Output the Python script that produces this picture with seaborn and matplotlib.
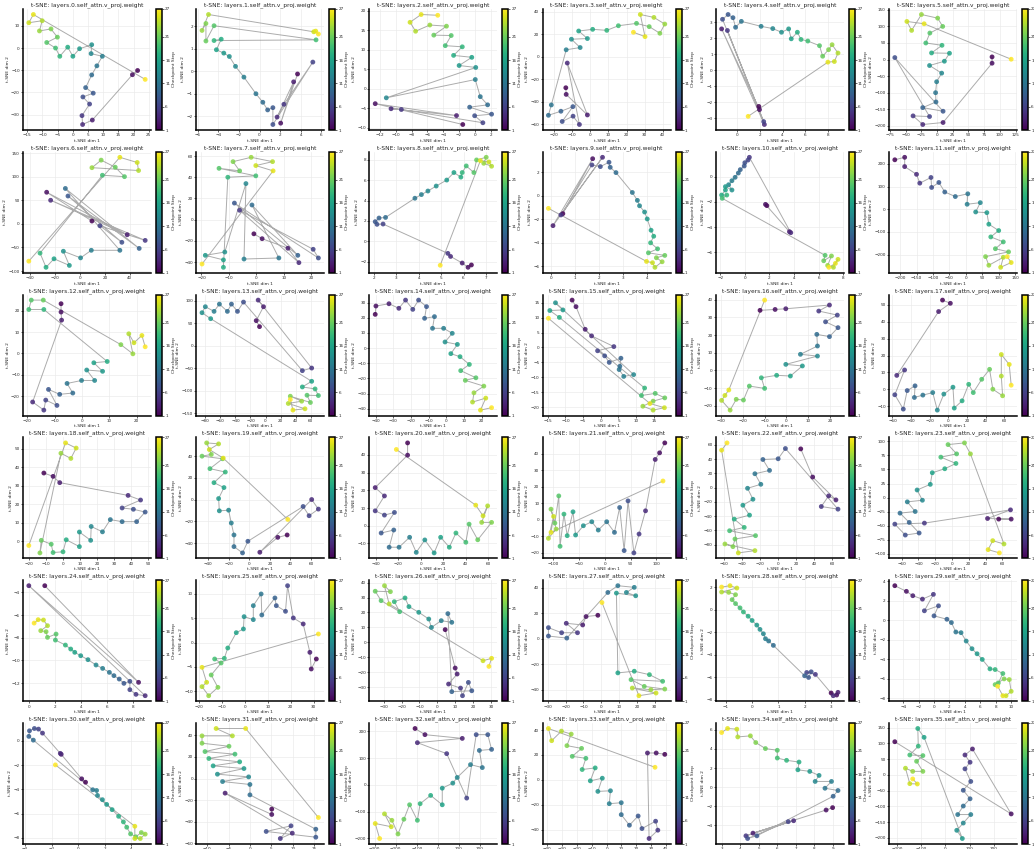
import numpy as np
import pandas as pd
import matplotlib
matplotlib.use("Agg")
import matplotlib.pyplot as plt
import seaborn as sns
from matplotlib.colors import Normalize
from matplotlib.cm import ScalarMappable

# ------------------------------------------------------------
# Données : trajectoires t-SNE des 27 checkpoints, une par couche
# ------------------------------------------------------------
STEPS = list(range(1, 28))
CBAR_TICKS = [1, 6, 11, 16, 21, 27]
LAYER_NAMES = ["layers.%d.self_attn.v_proj.weight" % i for i in range(36)]

L00_X = [21.3, 19.6, 6.4, 3.2, 3.0, 5.5, 3.3, 6.7, 4.2, 6.2, 7.9, 9.7, 6.0, 6.2, 2.2, 0.0, -1.7, -4.3, -5.7, -8.6, -5.1, -7.2, -11.0, -10.1, -14.5, -13.0, 23.8]
L00_Y = [-10.1, -12.0, -32.4, -34.4, -30.4, -25.2, -22.0, -20.3, -17.8, -12.1, -8.0, -3.7, -2.5, 1.5, -0.3, -3.7, 0.4, -3.7, 0.0, 2.5, 4.9, 8.6, 7.7, 12.3, 11.4, 15.1, -14.1]
L01_X = [3.7, 2.06, 3.32, 1.71, 2.37, 5.19, 1.3, 1.3, 0.79, 0.32, -0.35, -1.52, -2.34, -2.94, -3.48, -4.2, -3.73, -4.43, 5.5, -4.43, -5.22, -5.22, -5.6, -4.97, 5.28, 5.47, 5.73]
L01_Y = [-0.12, -2.31, -0.47, -2.04, -1.47, 0.41, -2.37, -1.62, -1.72, -1.38, -1.0, -0.26, 0.22, 0.66, 0.81, 0.96, 1.43, 1.37, 1.4, 2.03, 1.35, 2.13, 1.82, 2.53, 1.76, 1.79, 1.66]
L02_X = [-1.54, -12.6, -2.33, -10.6, -9.3, 1.0, -0.04, 2.1, -0.67, 1.6, 0.67, 0.04, -11.2, 0.1, -2.0, -0.4, -2.7, -1.6, -3.75, -3.0, -5.2, -3.6, -5.7, -7.5, -8.2, -6.8, -4.7]
L02_Y = [-9.15, -3.8, -6.86, -5.1, -5.3, -8.7, -6.9, -6.5, -4.7, -4.1, -2.0, 2.4, -2.3, 5.5, 6.0, 8.1, 8.6, 10.8, 11.1, 13.7, 13.8, 16.1, 16.4, 14.8, 17.1, 19.1, 18.9]
L03_X = [-13.5, -13.3, -1.6, -12.7, -6.0, -9.5, -15.5, -9.6, -16.2, -23.1, -21.5, -13.3, -5.6, -10.4, -1.6, -6.4, 1.3, 9.1, 15.5, 25.5, 32.5, 38.4, 41.1, 35.1, 27.6, 30.2, 23.8]
L03_Y = [-27.6, -33.5, -51.8, -5.6, -60.3, -52.9, -57.6, -44.4, -48.5, -52.1, -42.9, 6.2, 8.2, 15.6, 16.2, 22.9, 24.4, 23.5, 27.6, 29.7, 26.8, 20.9, 29.1, 35.0, 37.6, 17.9, 21.8]
L04_X = [1.91, 1.97, -1.37, 2.4, -0.86, 2.34, -1.29, -0.8, -0.37, -0.14, 0.37, 2.11, 3.14, 3.91, 4.54, 4.77, 5.31, 5.63, 6.23, 7.26, 7.54, 8.06, 8.37, 8.89, 8.57, 8.0, 0.97]
L04_Y = [-2.25, -2.45, 2.6, -3.38, 2.5, -3.2, 3.2, 3.5, 3.3, 2.7, 3.07, 2.76, 2.62, 2.39, 2.6, 1.98, 2.39, 1.94, 1.84, 1.55, 0.89, 1.3, 1.61, 1.09, 0.56, 0.52, -2.87]
L05_X = [87.6, 87.6, 9.7, -22.6, -38.0, -11.8, -67.0, 9.7, -22.6, -1.6, -2.2, -0.5, 7.5, -11.8, 11.8, 19.9, -8.6, 8.0, -17.7, -11.3, 9.1, 1.1, -24.7, -40.3, -47.8, -20.4, 118.0]
L05_Y = [8, -11, -190, -196, -170, -172, 6, -156, -145, -128, -100, -67, -41, -18, -5, 19, 20, 43, 50, 80, 100, 125, 136, 88, 115, 108, 1]
L06_X = [9.6, -26.7, 37.9, -23.5, 52.3, 16.0, 33.6, -9.6, 47.5, -11.7, 32.0, 9.1, 0.5, -13.3, -8.5, -20.8, -27.2, -32.0, 18.0, 35.7, 28.3, 17.0, 9.6, 47.0, 45.9, 32.0, -41.0]
L06_Y = [6, 67, -23, 50, -35, -4, -39, 59, -52, 75, -56, -56, -72, -58, -88, -74, -92, -62, 103, 100, 120, 135, 119, 113, 130, 141, -79]
L07_X = [-0.9, 2.1, 11.5, 15.5, -6.1, 20.7, 22.6, -8.0, 15.1, -1.6, 8.2, -4.5, -3.8, -11.5, -18.6, -12.0, -12.0, -10.4, -0.2, -13.6, -6.1, -8.5, -1.9, 5.9, -0.2, 6.1, -19.8]
L07_Y = [-13.4, -18.0, -27.0, -40.6, 8.8, -28.0, -36.2, 15.6, -33.7, 13.8, -36.2, -37.2, 34.0, -30.6, -33.7, -38.0, -45.0, 40.0, 41.3, 48.4, 46.0, 54.7, 58.8, 54.7, 51.0, 46.0, -41.9]
L08_X = [6.35, 6.2, 5.94, 5.42, 5.3, 2.41, 2.14, 2.06, 2.23, 2.52, 3.83, 4.12, 4.41, 4.78, 5.25, 5.57, 5.88, 5.94, 6.12, 6.46, 6.58, 7.01, 6.9, 7.25, 7.13, 6.75, 4.96]
L08_Y = [-2.34, -2.57, -2.15, -1.5, -1.2, 1.69, 1.66, 1.92, 2.28, 2.34, 4.23, 4.59, 4.94, 5.43, 6.02, 6.76, 6.31, 6.76, 7.41, 6.76, 8.0, 8.26, 7.67, 7.38, 7.8, 7.93, -2.37]
L09_X = [0.49, 1.73, 0.08, 2.14, 0.41, 1.7, 2.05, 2.41, 2.46, 2.7, 3.38, 3.59, 3.68, 3.89, 4.0, 4.16, 4.27, 4.14, 4.43, 4.05, 4.73, 4.38, 4.62, 4.32, 4.22, 3.97, -0.11]
L09_Y = [-1.52, 3.15, -2.54, 3.27, -1.63, 2.62, 2.48, 2.85, 2.42, 1.97, 0.28, -0.39, -0.85, -1.38, -1.97, -2.93, -3.44, -4.0, -4.51, -4.85, -5.07, -5.27, -5.61, -6.08, -5.69, -5.58, -1.07]
L10_X = [1.79, 1.68, 3.63, 3.74, 0.37, 0.26, 0.0, -0.05, -0.37, -0.53, -0.79, -1.05, -1.32, -1.05, -1.58, -1.58, -1.89, -1.47, -1.84, 6.53, 6.42, 7.05, 6.74, 7.21, 7.58, 7.37, 6.84]
L10_Y = [-2.3, -2.2, -4.37, -4.45, 1.54, 1.32, 1.11, 0.85, 0.56, 0.29, -0.05, -0.32, -0.64, -1.06, -0.79, -1.06, -1.46, -1.46, -1.72, -6.25, -6.68, -6.3, -7.05, -7.2, -6.57, -6.89, -7.2]
L11_X = [-216, -186, -186, -150, -140, -106, -104, -82, -64, -32, 6, 4, 44, 30, 64, 70, 100, 76, 114, 90, 130, 60, 70, 114, 106, 138, 126]
L11_Y = [218, 229, 188, 154, 115, 140, 96, 118, 76, 56, 68, 22, 29, -12, -15, -66, -94, -122, -144, -174, -188, -209, -247, -212, -256, -235, -209]
L12_X = [-7.7, -7.7, -7.5, -18.1, -14.0, -13.3, -9.2, -12.3, -8.2, -3.4, -5.5, -0.2, 4.6, 1.7, 7.5, 4.3, 9.2, -14.0, -19.5, -18.6, -14.2, 14.2, 18.6, 17.1, 19.0, 21.9, 23.1]
L12_Y = [23.3, 19.4, 15.6, -22.8, -26.6, -21.9, -24.4, -16.9, -19.2, -18.6, -14.1, -12.7, -12.7, -7.8, -8.4, -4.4, -3.8, 20.6, 20.6, 25.0, 25.0, 4.1, -0.2, 9.2, 5.0, 8.4, 3.1]
L13_X = [-8.0, -12.4, -2.7, -9.8, 61.3, 48.9, -29.3, -37.3, -45.3, -50.7, -61.3, -68.4, -80.0, -84.4, -72.9, 61.3, 48.9, 65.8, 70.2, 55.1, 59.6, 32.9, 48.0, 30.2, 52.4, 36.4, 32.9]
L13_Y = [42.6, 55.9, 86.8, 101.5, -49.3, -55.1, 97.1, 76.5, 92.6, 76.5, 92.6, 76.5, 86.8, 73.5, 60.3, -78.7, -91.2, -95.6, -110.3, -109.6, -125.7, -111.8, -122.8, -127.9, -139.7, -142.6, -119.1]
L14_X = [-40.3, -39.9, -32.5, -26.9, -23.1, -19.0, -15.7, -11.2, -12.3, -6.7, -7.8, -1.5, 3.4, -0.7, 6.3, 2.6, 7.8, 13.1, 8.2, 16.8, 10.8, 21.3, 15.7, 14.9, 22.4, 19.4, 25.7]
L14_Y = [22.2, 27.7, 29.2, 26.2, 31.6, 25.5, 31.6, 27.3, 19.6, 20.7, 13.0, 13.0, 9.7, 4.0, 2.4, -3.7, -5.7, -10.8, -14.9, -19.6, -21.3, -25.1, -29.5, -35.6, -33.0, -40.9, -39.3]
L15_X = [-8.1, -7.0, -4.4, -2.6, 3.7, -0.9, 1.1, 2.4, 5.7, 5.4, 5.2, 6.5, 9.3, -12.8, -10.7, -14.4, -11.7, 12.4, 11.5, 15.4, 18.1, 14.8, 11.9, 14.8, 18.0, 13.9, -14.8]
L15_Y = [15.9, 13.7, 6.1, 3.9, 0.3, -1.1, -2.8, -5.0, -3.6, -6.3, -7.4, -9.7, -9.1, 15.0, 12.6, 12.4, 10.1, -13.6, -16.1, -15.4, -16.9, -18.0, -19.7, -21.0, -20.2, -18.8, 9.8]
L16_X = [-12.1, -5.2, -0.3, 19.7, 14.8, 23.3, 17.9, 23.6, 19.7, 13.9, 14.2, 6.4, 14.2, -0.3, 7.3, 1.8, -4.5, -11.5, -10.0, -17.0, -19.7, -23.0, -25.8, -29.7, -28.2, -26.4, -10.0]
L16_Y = [34.0, 34.5, 34.9, 37.0, 33.6, 31.3, 27.5, 24.2, 19.1, 20.4, 13.8, 9.1, 8.1, 3.4, 2.5, -3.2, -2.8, -4.2, -10.2, -8.9, -16.8, -16.4, -22.5, -17.0, -14.2, -11.1, 39.8]
L17_X = [-6.3, 2.1, -10.5, -55.4, -47.0, -57.5, -48.4, -44.2, -35.8, -36.5, -27.4, -16.8, -11.9, -4.9, 4.9, 6.3, 14.7, 21.8, 26.7, 35.8, 44.2, 47.7, 58.2, 56.8, 56.8, 65.3, 67.4]
L17_Y = [52.9, 51.0, 46.1, 8.2, 11.4, -3.3, -11.8, -0.8, 2.0, -4.9, -3.5, -2.0, -12.4, -2.9, 1.2, -11.2, -6.9, 2.9, -2.0, 5.9, 11.8, 0.0, -3.9, 7.8, 20.6, 14.7, 2.4]
L18_X = [-11.2, -5.8, -1.9, 38.1, 45.4, 34.6, 41.2, 48.1, 43.1, 34.6, 27.7, 23.1, 16.5, 16.2, 9.6, 9.6, 1.9, 0.0, -5.8, -6.9, -12.7, -13.5, -1.2, 4.6, 7.7, 1.5, -20.0]
L18_Y = [36.8, 35.0, 31.6, 24.7, 22.2, 17.9, 17.2, 15.7, 10.5, 10.5, 11.6, 5.0, 7.9, 0.4, 4.9, -3.0, 0.7, -5.8, -6.2, -1.7, 0.4, -6.4, 47.5, 44.7, 50.3, 53.1, -2.4]
L19_X = [36.8, 27.7, 10.3, 60.6, 67.1, 58.1, 52.3, -1.3, -6.5, -14.8, -14.8, -17.4, -20.0, -29.0, -29.7, -24.5, -34.2, -23.2, -38.1, -25.8, -45.8, -36.8, -41.3, -29.7, -38.7, -25.2, 37.4]
L19_Y = [-32.6, -34.8, -48.5, 0.0, -8.8, -14.9, -6.4, -38.4, -49.1, -43.3, -32.6, -21.6, -9.8, -10.4, 0.9, 11.0, 15.5, 25.3, 28.4, 37.5, 39.9, 41.5, 52.1, 51.2, 46.0, 38.1, -18.3]
L20_X = [-11.8, -11.8, -40.6, -32.4, -40.6, -32.4, -23.5, -35.3, -24.1, -28.2, -19.4, -10.0, -4.1, 3.5, 11.8, 17.6, 25.3, 31.2, 40.0, 42.9, 50.6, 62.9, 54.1, 59.4, 55.3, 48.8, -21.8]
L20_Y = [46.7, 39.8, 21.5, 16.8, 8.4, 6.0, 7.5, -4.1, -2.4, -12.1, -12.1, -6.5, -15.0, -8.0, -15.3, -6.5, -12.1, -4.1, -9.3, 0.9, -7.9, 1.9, 1.9, 11.2, 5.6, 11.6, 43.0]
L21_X = [116, 106, 97.5, 78.8, 66.3, 56.3, 45, 37.5, 28.8, 18.8, 3.8, -12.5, -25, -41.3, -56.3, -61.3, -72.5, -78.8, -86.3, -88.8, -96.3, -103.8, -93.8, -108.8, -98.8, -103.8, 112.5]
L21_Y = [46.4, 40.4, 36.4, 5.4, -8.6, -20.0, 11.4, -18.6, 7.4, -7.6, -1.2, -6.2, -1.2, -3.6, -9.2, 4.8, -9.6, 3.4, -16.0, 14.4, -2.0, 6.4, -5.6, -11.2, 2.0, -7.6, 23.4]
L22_X = [25.2, 38.5, 64.4, 56.3, 48.1, 66.7, 8.1, 0.0, -17.0, -9.6, -25.9, -19.3, -34.1, -28.1, -39.3, -31.9, -48.9, -37.8, -54.1, -25.2, -48.1, -50.4, -59.3, -25.9, -44.4, -63.0, -57.0]
L22_Y = [54.4, 14.9, -17.2, -11.6, -26.5, -30.2, 54.9, 40.5, 39.5, 24.2, 19.5, 4.7, -0.9, -16.3, -24.7, -38.6, -44.2, -55.8, -60.5, -67.4, -72.1, -82.8, -79.1, -88.4, -91.6, 52.6, 62.8]
L23_X = [55.7, 70.6, 42.4, 69.8, -32.9, -68.2, -55.7, -39.2, -51.0, -62.0, -43.9, -53.3, -35.3, -41.6, -25.9, -23.5, -8.6, 4.7, -13.3, 5.5, -4.7, 14.9, 22.0, 62.0, 48.6, 43.1, 56.5]
L23_Y = [-38.2, -38.2, -37.1, -21.8, -45.3, -47.1, -66.5, -62.9, -44.1, -27.6, -24.7, -7.6, -4.7, 13.5, 23.5, 44.1, 51.2, 60.6, 71.8, 77.6, 94.1, 97.1, 77.6, -82.4, -76.5, -92.4, -98.2]
L24_X = [1.23, 8.46, 0.0, 8.97, 8.26, 7.79, 7.79, 7.33, 6.97, 6.56, 6.21, 5.69, 5.18, 4.56, 4.0, 3.54, 3.23, 2.82, 2.05, 2.1, 1.44, 1.33, 0.92, 1.44, 1.13, 0.72, 0.41]
L24_Y = [-3.41, -11.94, -3.41, -13.12, -13.0, -12.59, -11.85, -12.03, -11.65, -11.35, -11.06, -10.71, -10.41, -9.94, -9.59, -9.29, -9.0, -8.65, -8.21, -7.68, -7.97, -7.47, -7.38, -6.94, -6.44, -6.41, -6.71]
L25_X = [31.1, 28.9, 28.3, 25.4, 21.1, 18.6, 17.7, 13.7, 13.1, 7.4, 7.1, 3.7, 3.7, -0.3, -0.6, -3.7, -7.4, -8.9, -13.1, -10.3, -14.6, -11.7, -15.7, -18.6, -16.6, -18.6, 32.0]
L25_Y = [-3.36, -5.41, -1.99, 3.84, 5.07, 11.7, 6.44, 7.6, 9.18, 5.68, 10.0, 7.6, 4.73, 5.34, 2.81, 2.05, -1.1, -3.22, -3.36, -4.18, -6.64, -9.18, -10.9, -9.04, -8.15, -5.07, 1.78]
L26_X = [4.4, 10.0, 11.1, 6.3, 13.0, 14.1, 17.4, 19.3, 8.1, 5.9, 8.1, 2.2, -3.3, -4.8, -10.4, -15.9, -18.1, -24.1, -21.1, -31.5, -34.8, -26.3, -29.6, -27.0, 25.6, 30.4, 28.9]
L26_Y = [8.5, -17.2, -21.2, -27.9, -30.6, -35.7, -26.8, -32.4, -33.0, 19.2, 13.4, 14.5, 10.0, 15.6, 20.1, 23.9, 29.7, 27.2, 20.5, 27.9, 34.2, 33.9, 37.9, 25.7, -12.3, -10.7, -16.1]
L27_X = [-1.9, -8.5, -10.4, -19.6, -13.3, -22.2, -29.6, -29.6, -19.3, 3.7, 9.3, 18.5, 14.1, 19.3, 8.5, 9.3, 18.5, 27.0, 34.4, 16.7, 24.1, 35.6, 27.8, 17.4, 30.7, 21.1, 0.4]
L27_Y = [18.4, 17.4, 10.8, 12.1, 4.7, 4.7, 8.7, 2.1, 0.5, 36.3, 41.6, 40.3, 36.3, 33.7, 35.8, -26.8, -25.5, -28.2, -33.4, -32.1, -37.4, -39.5, -40.0, -38.7, -42.6, -44.7, 28.4]
L28_X = [3.01, 3.22, 3.27, 3.09, 2.41, 2.08, 2.25, 2.15, 2.0, 0.81, 0.63, 0.51, 0.43, 0.3, 0.18, 0.0, -0.15, -0.33, -0.46, -0.63, -0.76, -0.63, -0.89, -1.16, -0.58, -0.84, -1.16]
L28_Y = [-7.41, -7.59, -7.35, -7.65, -5.76, -5.59, -5.53, -6.03, -5.88, -3.18, -2.79, -2.59, -2.15, -1.76, -1.38, -0.97, -0.59, -0.21, 0.15, 0.53, 0.88, 1.32, 1.53, 1.56, 1.91, 2.12, 2.0]
L29_X = [-5.08, -3.58, -2.75, -1.5, -0.08, -1.25, 0.58, 0.0, 1.67, 2.25, 2.83, 3.5, 4.17, 4.92, 5.58, 6.25, 7.25, 7.92, 8.92, 8.33, 7.92, 9.08, 9.75, 10.0, 9.33, 8.92, 8.25]
L29_Y = [3.55, 2.97, 2.52, 2.17, 2.66, 0.97, 1.48, 0.45, 0.1, -0.24, -1.21, -1.28, -2.14, -2.93, -3.45, -4.03, -5.0, -5.07, -5.48, -6.45, -6.62, -6.03, -6.1, -7.31, -7.76, -7.76, -6.79]
L30_X = [0.56, 0.27, -1.27, -1.34, -2.68, -2.98, -3.29, -3.66, -3.71, -3.37, 1.1, 1.39, 1.46, 1.83, 2.15, 2.56, 3.05, 3.41, 3.66, 3.95, 4.34, 4.76, 5.05, 4.68, 4.27, 4.27, -1.71]
L30_Y = [-3.42, -3.14, -1.12, -1.04, 0.63, 0.96, 1.01, 0.82, 0.36, 0.05, -4.04, -4.1, -4.51, -4.86, -5.25, -5.68, -6.23, -6.69, -7.13, -7.68, -7.92, -7.57, -7.7, -8.06, -8.06, -7.05, -1.99]
L31_X = [5.1, 5.1, -5.8, 9.9, 7.1, 9.6, 3.8, 15.4, 15.4, 0.0, 0.0, -6.4, -0.3, -7.6, -1.4, -8.6, -2.4, -9.6, -3.5, -10.5, -4.9, -11.2, -11.2, -4.1, -7.9, -1.0, 16.0]
L31_Y = [-28.3, -33.2, -13.5, -50.5, -55.4, -43.7, -48.9, -54.2, -46.8, -15.1, -5.5, -2.8, 1.5, 4.0, 9.2, 11.7, 15.4, 18.5, 22.5, 24.9, 29.8, 32.6, 39.4, 39.4, 46.2, 46.2, -36.0]
L32_X = [-108, -61, 116, -97, 42, 137, 182, 237, 255, 197, 211, 155, 92, 71, 21, 21, -34, -84, -97, -134, -161, -189, -218, -253, -221, -297, -276]
L32_Y = [211, 188, 174, 158, 117, -49, 188, 188, 133, 129, 65, 76, 28, 7, -12, -74, -39, -70, -132, -74, -128, -183, -132, -108, -156, -144, -200]
L33_X = [39.3, 33.5, 27.6, 28.7, 34.6, 33.1, 23.9, 21.3, 15.4, 9.9, 9.9, 1.8, 2.6, -5.9, -2.9, -11.0, -7.7, -16.5, -14.0, -23.2, -16.9, -26.8, -23.9, -30.5, -37.1, -39.3, 32.7]
L33_Y = [20.5, 21.6, 21.6, -47.2, -40.5, -33.3, -39.2, -29.1, -36.5, -28.0, -18.4, -19.2, -8.8, -9.3, 1.3, -0.8, 9.6, 8.3, 17.3, 18.9, 25.3, 27.5, 36.8, 39.2, 31.5, 41.3, 10.1]
L34_X = [8.98, 8.63, 4.69, 6.88, 4.31, 6.59, 4.4, 4.9, 9.01, 9.27, 8.57, 8.92, 8.04, 8.25, 7.75, 7.11, 7.17, 6.5, 6.0, 6.0, 5.36, 4.84, 4.55, 3.87, 3.82, 3.32, 3.0]
L34_Y = [-2.14, -2.39, -4.81, -3.51, -5.09, -3.61, -5.37, -5.09, -0.95, -0.35, -0.11, 0.6, 0.6, 1.23, 1.65, 1.82, 2.63, 2.81, 3.05, 3.86, 4.04, 4.67, 5.37, 5.26, 6.07, 6.14, 5.72]
L35_X = [-209, 272, 112, 81, 102, 81, 105, 74, 102, 74, 51, 105, 74, 47, 70, -88, -114, -112, -147, -93, -119, -93, -135, -165, -147, -116, -135]
L35_Y = [105, -124, 82, 63, 40, 19, -21, -49, -76, -99, -126, -126, -153, -176, -202, 119, 147, 91, 63, 61, 43, 11, 11, 21, -28, -29, -13]

LAYERS = [
    (L00_X, L00_Y), (L01_X, L01_Y), (L02_X, L02_Y), (L03_X, L03_Y), (L04_X, L04_Y), (L05_X, L05_Y),
    (L06_X, L06_Y), (L07_X, L07_Y), (L08_X, L08_Y), (L09_X, L09_Y), (L10_X, L10_Y), (L11_X, L11_Y),
    (L12_X, L12_Y), (L13_X, L13_Y), (L14_X, L14_Y), (L15_X, L15_Y), (L16_X, L16_Y), (L17_X, L17_Y),
    (L18_X, L18_Y), (L19_X, L19_Y), (L20_X, L20_Y), (L21_X, L21_Y), (L22_X, L22_Y), (L23_X, L23_Y),
    (L24_X, L24_Y), (L25_X, L25_Y), (L26_X, L26_Y), (L27_X, L27_Y), (L28_X, L28_Y), (L29_X, L29_Y),
    (L30_X, L30_Y), (L31_X, L31_Y), (L32_X, L32_Y), (L33_X, L33_Y), (L34_X, L34_Y), (L35_X, L35_Y),
]

# ------------------------------------------------------------
# Style
# ------------------------------------------------------------
sns.set_theme(style="whitegrid", rc={
    "axes.edgecolor": "black", "axes.linewidth": 1.1,
    "grid.color": "#ebebeb", "grid.linewidth": 0.5,
    "xtick.bottom": True, "ytick.left": True,
    "xtick.major.size": 1.5, "ytick.major.size": 1.5,
    "xtick.major.width": 0.5, "ytick.major.width": 0.5,
    "xtick.major.pad": 1, "ytick.major.pad": 0.8,
    "xtick.labelsize": 3.0, "ytick.labelsize": 3.0,
    "axes.labelsize": 3.2, "axes.titlesize": 4.2,
    "axes.labelpad": 1.0, "axes.titlepad": 2,
})
plt.rcParams["font.family"] = ["DejaVu Sans"]

W, H = 1034, 849
fig = plt.figure(figsize=(W / 100, H / 100), dpi=100)
norm = Normalize(1, 27)

for i, (xs, ys) in enumerate(LAYERS):
    r, c = divmod(i, 6)
    left = 23 + 173.2 * c
    top = 9 + 142.8 * r
    ax = fig.add_axes([left / W, 1 - (top + 121) / H, 128 / W, 121 / H])
    cax = fig.add_axes([(left + 133) / W, 1 - (top + 121) / H, 6 / W, 121 / H])

    df = pd.DataFrame({"x": xs, "y": ys, "step": STEPS})
    ax.plot(df["x"], df["y"], color="gray", alpha=0.65, lw=0.7, zorder=1)
    sns.scatterplot(data=df, x="x", y="y", hue="step", palette="viridis",
                    hue_norm=norm, s=12, linewidth=0, alpha=0.85,
                    legend=False, ax=ax, zorder=2)
    ax.set_title("t-SNE: " + LAYER_NAMES[i])
    ax.set_xlabel("t-SNE dim 1")
    ax.set_ylabel("t-SNE dim 2")
    sns.despine(ax=ax)

    sm = ScalarMappable(norm=norm, cmap="viridis")
    cb = fig.colorbar(sm, cax=cax, ticks=CBAR_TICKS)
    cb.set_label("Checkpoint Step", fontsize=3.2, labelpad=0.8)
    cb.ax.tick_params(labelsize=3.0, length=1.5, width=0.5, pad=0.8)
    cb.outline.set_linewidth(1.1)

fig.savefig("out.png", dpi=100)
